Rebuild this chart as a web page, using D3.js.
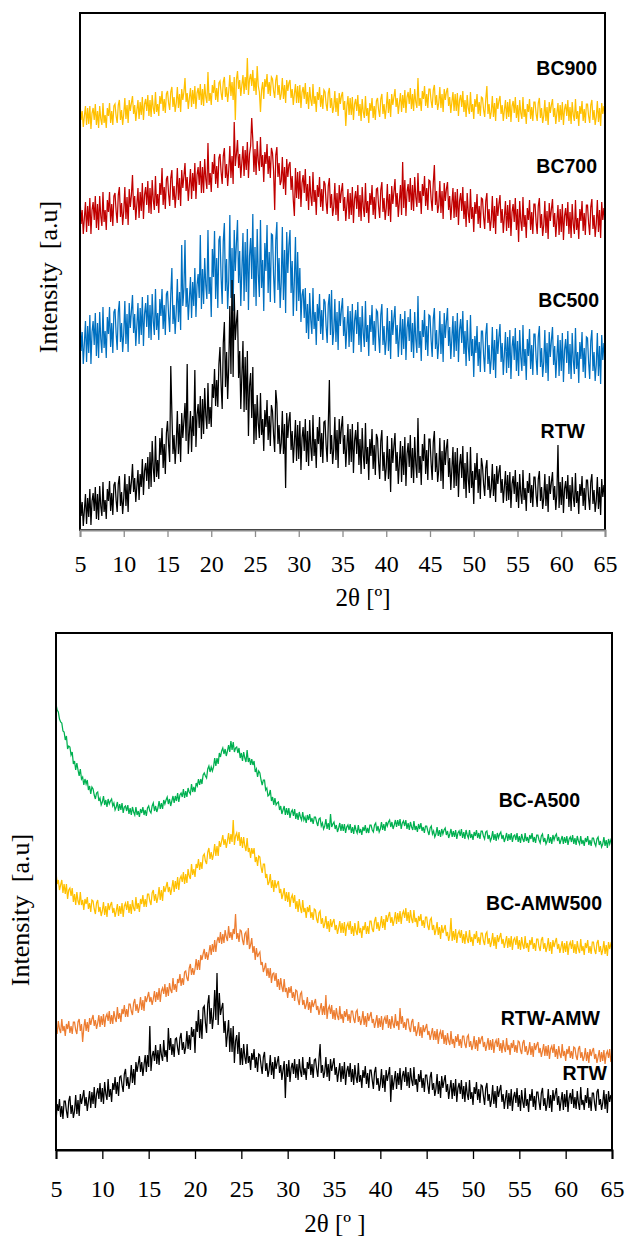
<!DOCTYPE html>
<html>
<head>
<meta charset="utf-8">
<script src="https://cdn.jsdelivr.net/npm/d3@7"></script>
<style>
  body { margin: 0; background: #fff; }
  svg { display: block; }
</style>
</head>
<body>
<svg id="chart" width="628" height="1239"></svg>
<script>
// 2θ scan range; every pattern is sampled uniformly from start to end (0.125° step)
const twoThetaStart = 5;
const twoThetaEnd = 65;
const twoThetaTicks = [5, 10, 15, 20, 25, 30, 35, 40, 45, 50, 55, 60, 65];

// ---- Panel (a): raw wood and biochars, intensity in a.u. (vertical offsets included) ----
const bc900 = [
  428,410,419,403,414,424,405,422,
  406,424,401,417,422,410,426,405,
  419,402,424,411,405,427,407,415,
  402,422,414,427,407,419,405,424,
  426,414,407,425,430,410,420,405,
  416,432,411,425,407,430,419,427,
  434,416,425,409,420,430,411,428,
  415,433,410,426,431,419,435,414,
  430,413,435,422,416,438,418,426,
  414,434,426,439,419,431,417,436,
  439,427,420,438,443,423,433,418,
  427,443,422,436,418,441,430,438,
  452,428,437,421,432,442,423,440,
  426,444,421,437,442,430,446,425,
  441,424,446,433,427,458,429,437,
  425,445,437,450,430,442,428,447,
  449,437,430,448,453,433,443,428,
  439,455,434,448,430,453,410,450,
  459,441,450,434,445,455,436,453,
  440,472,435,451,456,444,460,439,
  452,435,464,444,438,418,440,448,
  431,451,443,456,436,448,434,453,
  451,439,432,450,455,435,445,430,
  436,452,431,445,427,450,439,447,
  450,432,441,425,436,446,427,444,
  427,445,422,438,443,431,447,426,
  438,421,443,430,424,446,426,434,
  418,438,430,443,423,435,421,440,
  438,426,419,437,442,422,432,417,
  423,439,418,432,414,437,426,434,
  438,420,429,404,424,434,415,432,
  415,433,410,426,431,419,435,414,
  426,409,431,418,412,434,414,422,
  407,427,419,432,412,424,410,429,
  432,420,413,431,436,416,426,411,
  422,438,417,431,413,436,425,433,
  441,423,432,416,427,437,418,435,
  422,440,417,433,438,426,442,421,
  436,419,441,428,422,452,424,432,
  419,439,431,444,424,436,422,441,
  441,429,422,440,445,425,435,420,
  427,443,422,436,418,441,430,438,
  442,424,433,417,428,438,419,436,
  419,437,414,430,435,423,439,418,
  430,413,435,422,416,438,418,426,
  411,431,423,436,416,428,414,433,
  432,420,413,431,444,416,426,411,
  418,434,413,427,409,432,421,429,
  434,416,425,409,420,430,411,428,
  413,431,408,424,429,417,433,412,
  425,408,430,417,411,433,413,421,
  406,426,418,431,411,423,409,428,
  428,416,409,427,432,412,422,407,
  414,430,409,423,405,428,417,425,
  431,413,422,406,417,427,408,425,
  410,428,405,421,426,414,430,409,
  423,406,428,415,409,431,411,419,
  404,424,416,429,409,421,407,426,
  426,414,407,425,430,410,420,405,
  413,429,408,422,404,427,416,424,
  417
];
const bc700 = [
  334,306,320,296,312,328,298,324,
  304,332,296,320,328,310,334,302,
  326,300,334,314,304,338,308,320,
  300,330,318,338,308,326,304,334,
  337,319,307,335,343,313,327,305,
  319,343,311,333,305,341,323,335,
  355,320,334,310,326,342,312,338,
  319,347,311,335,343,325,349,317,
  342,316,350,330,320,354,324,336,
  317,347,335,362,325,343,321,351,
  354,336,324,352,360,330,344,322,
  338,362,330,352,324,360,342,354,
  367,339,353,329,345,361,331,357,
  339,367,331,355,363,345,369,337,
  363,337,371,351,341,387,345,357,
  338,368,356,376,346,364,342,372,
  376,358,346,374,382,352,366,344,
  360,384,352,374,346,408,364,376,
  390,362,376,352,368,384,354,380,
  360,388,352,376,384,412,390,358,
  381,355,389,369,359,393,363,375,
  348,378,366,386,356,374,352,382,
  377,359,320,375,383,353,367,345,
  349,373,341,363,335,371,353,365,
  368,340,354,330,314,362,332,358,
  331,359,323,347,355,337,361,329,
  346,320,354,334,324,358,328,340,
  315,345,333,353,323,341,319,349,
  346,328,316,344,352,322,336,314,
  323,347,315,337,309,345,327,339,
  347,319,333,309,325,341,311,337,
  315,343,307,331,339,321,345,313,
  335,309,343,323,313,347,317,329,
  307,337,325,345,315,333,311,341,
  342,324,312,340,348,318,332,310,
  322,346,314,336,308,344,326,338,
  351,323,337,313,329,345,315,368,
  322,350,314,338,346,328,352,320,
  345,319,353,333,323,357,327,339,
  316,346,334,354,324,342,320,350,
  349,331,319,347,365,325,339,317,
  325,349,317,339,311,347,329,341,
  348,320,334,310,326,342,312,338,
  313,341,305,329,337,319,343,311,
  329,303,337,317,307,341,311,323,
  298,328,316,336,306,324,302,332,
  331,313,301,329,337,307,321,299,
  310,334,302,324,296,332,314,326,
  335,307,321,297,313,329,299,325,
  302,330,294,318,326,308,332,300,
  321,288,329,309,299,333,303,315,
  292,322,310,330,300,318,296,326,
  326,308,296,324,332,302,316,294,
  305,329,297,319,291,327,309,321,
  331,303,317,293,309,325,295,321,
  298,326,290,314,322,304,328,296,
  318,292,326,306,296,330,300,312,
  291,321,309,329,299,317,295,325,
  325,307,295,323,331,301,315,293,
  306,330,298,320,292,328,310,322,
  312
];
const bc500 = [
  217,179,198,166,187,209,168,204,
  177,215,166,198,209,185,217,174,
  207,172,218,191,177,223,182,199,
  172,213,196,223,183,207,177,218,
  221,197,180,218,229,188,207,178,
  197,229,186,216,178,227,202,219,
  235,197,216,184,205,227,186,222,
  195,233,184,216,227,203,235,192,
  225,190,236,209,195,241,200,217,
  190,231,214,241,201,225,195,236,
  239,215,198,236,262,206,225,196,
  219,251,208,238,200,285,224,241,
  290,223,242,210,231,253,212,248,
  224,262,213,245,256,232,295,221,
  261,226,272,245,231,300,236,253,
  213,281,253,299,231,272,222,290,
  294,253,226,289,307,239,271,221,
  250,315,232,282,219,300,259,287,
  310,247,279,224,260,297,229,288,
  238,301,220,274,292,251,316,233,
  283,224,301,256,233,310,242,270,
  219,287,259,305,237,278,228,296,
  295,254,227,290,308,240,272,222,
  248,303,230,280,217,298,257,285,
  300,237,269,214,250,293,219,278,
  229,262,208,235,241,212,242,197,
  226,191,237,210,196,242,201,218,
  185,226,209,236,196,220,190,231,
  228,204,187,225,236,195,240,185,
  199,231,188,218,180,229,204,221,
  232,194,213,181,202,224,183,219,
  188,226,177,209,220,196,228,185,
  213,178,224,197,183,229,188,205,
  174,215,198,225,185,209,179,220,
  218,194,177,215,226,185,204,175,
  190,222,179,209,171,220,195,212,
  224,186,205,173,194,216,175,211,
  181,219,170,202,213,189,221,178,
  207,172,218,191,177,234,182,199,
  169,210,193,220,180,204,174,215,
  214,190,173,211,222,181,200,171,
  187,219,176,206,168,217,192,209,
  222,184,203,171,192,214,173,209,
  179,217,168,200,211,187,219,176,
  199,164,210,183,169,215,174,191,
  153,194,177,204,164,188,158,199,
  199,175,158,196,207,166,185,156,
  171,203,160,190,152,201,176,193,
  206,168,187,155,176,198,157,193,
  162,200,151,183,194,170,202,159,
  189,154,200,173,159,205,164,181,
  150,191,174,201,161,185,155,196,
  196,172,155,193,204,163,182,153,
  168,200,157,187,149,198,173,190,
  203,165,184,152,173,195,154,190,
  159,197,148,180,191,167,199,156,
  186,151,197,170,156,202,161,178,
  147,188,171,198,158,182,152,193,
  192,168,151,189,200,159,178,149,
  165,197,154,184,146,195,170,187,
  172
];
const rtwA = [
  42,14,28,4,20,36,6,32,
  13,41,5,29,37,19,43,11,
  36,10,44,24,14,48,18,30,
  11,41,29,49,19,37,15,45,
  48,30,18,46,54,24,38,16,
  32,56,24,46,18,54,36,48,
  66,38,52,28,44,60,30,56,
  43,71,35,59,67,49,73,41,
  78,43,89,62,48,94,53,70,
  51,92,75,102,62,86,56,97,
  109,85,68,164,117,76,95,66,
  87,119,76,106,68,117,92,109,
  127,89,166,76,97,119,78,114,
  94,160,83,115,126,102,134,91,
  131,96,142,115,101,147,106,123,
  103,146,132,161,124,150,123,166,
  183,145,121,187,208,143,178,131,
  164,224,156,250,153,236,190,208,
  220,152,179,121,155,189,118,173,
  120,179,94,144,157,112,163,86,
  126,90,135,107,92,137,95,111,
  79,120,103,130,90,114,84,125,
  119,95,78,140,127,86,105,76,
  87,119,76,106,42,117,92,109,
  118,80,99,67,88,110,69,105,
  71,109,60,92,103,79,111,68,
  99,64,110,83,69,115,74,91,
  62,103,86,113,73,97,67,108,
  109,85,68,106,150,76,95,66,
  81,113,70,100,62,111,86,103,
  114,76,95,63,84,106,65,101,
  68,106,57,89,100,76,108,65,
  91,56,102,75,61,107,66,83,
  50,91,74,101,61,85,55,96,
  92,68,51,89,100,59,78,49,
  62,94,51,81,38,92,67,84,
  97,59,78,46,67,89,48,84,
  55,93,44,76,87,63,95,52,
  82,47,93,66,52,112,57,74,
  45,86,69,96,56,80,50,91,
  91,67,50,88,99,58,77,48,
  60,92,49,79,41,90,65,82,
  91,53,72,40,61,83,42,78,
  44,82,33,65,76,52,84,41,
  67,32,78,51,37,83,42,59,
  26,67,50,77,37,61,31,72,
  64,46,34,62,70,40,54,32,
  42,66,34,56,28,64,46,58,
  65,37,51,27,43,59,29,55,
  30,58,22,46,54,36,60,28,
  48,22,56,36,26,60,30,42,
  19,49,37,57,27,45,23,53,
  53,35,23,51,59,29,43,21,
  32,56,24,46,18,54,36,48,
  58,30,44,20,36,85,22,48,
  25,53,17,41,49,31,55,23,
  45,19,53,33,23,57,27,39,
  16,46,34,54,24,42,20,50,
  50,32,20,48,56,26,40,18,
  29,53,21,43,15,51,33,45,
  35
];

// ---- Panel (b): activated samples, intensity in a.u. (vertical offsets included) ----
const bcA500 = [
  446,440,438,431,428,427,419,418,
  410,414,401,404,403,395,398,386,
  389,380,387,380,374,381,371,373,
  365,371,366,370,360,364,356,363,
  361,355,351,357,358,349,352,345,
  348,354,345,350,343,351,346,349,
  351,344,347,340,343,348,339,346,
  340,347,337,343,344,339,345,336,
  342,335,343,338,335,343,335,339,
  333,341,337,343,335,340,334,342,
  344,339,337,344,347,339,344,338,
  342,349,341,347,341,350,346,350,
  353,346,351,344,349,354,347,354,
  349,357,348,355,357,353,361,352,
  359,353,362,358,356,366,358,363,
  358,367,364,371,365,371,366,375,
  377,374,372,381,384,378,383,379,
  383,392,384,392,386,397,393,399,
  402,396,401,394,399,405,398,409,
  400,408,398,402,403,397,402,392,
  397,389,398,392,388,400,388,392,
  385,391,385,389,378,381,373,379,
  377,370,365,370,370,360,362,354,
  355,360,349,353,345,352,345,347,
  348,340,344,336,340,344,335,342,
  335,342,332,338,340,334,341,331,
  337,330,338,333,330,338,330,333,
  327,335,330,336,328,332,326,333,
  333,328,324,331,332,324,327,321,
  324,331,321,327,320,336,323,326,
  328,321,325,318,322,327,319,326,
  319,326,317,323,325,320,326,317,
  323,316,325,320,317,325,317,321,
  315,323,319,325,317,322,317,325,
  325,320,318,325,327,319,324,318,
  321,328,320,326,319,328,324,328,
  330,323,328,321,325,330,323,330,
  324,331,321,327,329,324,330,321,
  327,320,328,323,320,329,320,324,
  318,326,321,327,319,323,317,324,
  324,319,315,322,324,316,319,313,
  316,323,314,320,313,321,316,320,
  322,315,319,312,316,321,313,319,
  313,320,311,317,319,314,321,312,
  318,311,320,315,312,320,312,316,
  310,318,314,320,312,317,311,319,
  319,314,311,318,319,311,315,309,
  312,319,310,316,309,317,312,316,
  318,311,315,308,312,317,309,316,
  310,317,308,314,315,310,317,308,
  314,307,316,311,308,317,309,313,
  307,315,311,317,308,313,307,315,
  315,310,307,314,316,308,312,306,
  309,316,307,313,306,315,310,314,
  316,309,313,306,310,314,306,313,
  307,314,305,311,313,308,315,306,
  312,305,314,309,306,314,306,310,
  304,312,308,314,305,310,304,312,
  312,307,304,311,313,305,309,303,
  306,313,304,310,302,311,306,310,
  307
];
const bcAMW500 = [
  278,266,270,260,265,270,257,266,
  256,266,251,260,262,254,262,248,
  256,245,258,249,245,258,245,250,
  240,251,246,253,241,247,238,250,
  249,241,236,247,250,238,243,234,
  239,248,235,244,233,247,240,245,
  248,237,242,233,239,246,234,244,
  236,247,233,244,247,240,249,237,
  246,236,250,242,239,253,241,247,
  238,251,246,255,243,251,243,256,
  256,249,245,257,260,249,256,247,
  253,263,250,260,249,264,258,263,
  268,258,263,255,262,270,258,269,
  261,273,260,271,274,268,278,266,
  276,267,281,274,271,286,275,281,
  273,286,282,291,280,288,281,294,
  296,289,286,298,302,291,298,290,
  296,306,294,304,294,309,303,309,
  315,305,311,302,309,317,306,316,
  308,330,305,314,317,309,318,304,
  313,302,313,304,299,312,298,302,
  292,302,296,302,288,293,284,294,
  293,283,277,286,286,272,276,265,
  268,276,262,270,258,270,262,266,
  269,257,261,251,256,262,249,258,
  248,258,243,252,255,247,255,241,
  249,238,251,242,237,250,238,242,
  232,243,238,245,232,238,230,241,
  240,231,227,237,239,226,232,222,
  226,234,221,229,218,231,223,228,
  231,220,225,216,222,229,217,227,
  217,228,214,224,227,220,229,216,
  224,214,227,219,215,229,217,222,
  212,224,220,228,216,224,216,229,
  229,221,218,229,233,221,228,219,
  225,234,222,231,220,235,228,234,
  238,227,233,224,230,238,226,237,
  228,239,226,236,239,232,242,229,
  238,227,240,231,227,240,228,232,
  223,234,229,236,224,230,222,233,
  233,224,220,230,232,220,225,215,
  220,228,215,223,211,225,217,221,
  225,214,218,209,215,232,209,219,
  210,221,207,216,219,212,220,207,
  216,206,219,211,207,220,208,213,
  204,216,211,219,207,213,205,217,
  217,209,205,216,218,206,212,203,
  208,217,204,213,201,215,208,213,
  217,206,211,202,208,214,202,212,
  203,214,200,210,212,205,214,201,
  210,200,213,205,201,214,202,207,
  198,210,205,213,201,207,199,211,
  211,203,199,210,213,201,207,198,
  203,212,199,208,196,210,203,208,
  212,201,206,197,203,209,197,207,
  198,209,195,205,208,201,210,197,
  206,196,209,201,197,211,199,204,
  195,207,202,210,197,204,196,208,
  208,200,196,207,210,198,204,195,
  200,209,196,205,194,208,201,206,
  202
];
const rtwAMW = [
  126,116,129,121,117,131,119,124,
  114,126,121,129,117,124,116,128,
  128,120,116,128,131,119,126,108,
  122,131,119,128,118,132,125,131,
  135,124,130,121,127,135,123,134,
  125,136,123,133,136,129,139,126,
  135,126,139,132,128,143,131,137,
  128,141,136,145,133,141,133,146,
  146,139,135,147,151,139,146,137,
  143,153,140,150,139,154,148,153,
  158,148,153,145,151,159,148,158,
  150,162,148,159,162,156,166,153,
  163,154,167,160,157,172,160,166,
  158,171,167,176,164,172,165,178,
  179,172,169,182,186,175,182,175,
  181,191,180,190,180,195,190,196,
  201,191,198,190,197,205,195,206,
  198,210,198,209,213,207,218,206,
  216,207,220,213,209,224,212,218,
  210,221,216,236,211,217,208,220,
  219,210,205,216,218,205,222,201,
  205,212,197,204,190,202,193,196,
  198,185,188,178,182,187,174,182,
  172,182,167,176,177,169,177,163,
  171,160,172,163,158,171,158,162,
  152,163,157,164,152,158,149,160,
  159,150,145,156,158,145,150,141,
  145,153,140,148,137,150,143,147,
  151,140,144,135,141,147,135,144,
  135,155,131,141,144,136,145,131,
  140,130,142,134,130,144,131,136,
  127,139,133,141,129,136,127,139,
  139,131,127,138,140,128,134,125,
  130,139,125,134,123,137,129,134,
  138,127,131,122,128,135,122,132,
  123,134,120,130,133,126,135,122,
  131,121,134,126,122,136,124,129,
  120,142,126,134,122,128,120,131,
  131,122,118,128,131,118,124,114,
  119,128,114,123,112,125,118,122,
  126,115,119,110,116,122,110,119,
  110,121,106,116,119,111,120,106,
  115,105,117,109,105,119,106,111,
  102,114,108,116,104,111,102,114,
  114,106,102,113,115,103,109,100,
  105,114,101,110,99,113,106,111,
  114,103,108,99,105,112,100,110,
  100,111,97,107,110,103,112,99,
  107,97,110,102,98,112,100,105,
  95,107,102,110,98,105,97,109,
  108,100,96,107,110,98,104,95,
  99,108,95,104,93,107,100,105,
  108,97,102,93,99,106,94,104,
  94,105,91,101,104,97,106,93,
  101,91,104,96,92,106,94,99,
  89,101,96,104,92,99,91,103,
  102,94,90,101,104,92,98,89,
  93,102,89,98,87,101,94,99,
  102,91,96,87,93,100,88,98,
  89,100,86,96,99,92,101,88,
  93
];
const rtwB = [
  28,46,39,51,33,44,31,49,
  49,39,32,49,54,36,45,32,
  39,55,36,50,34,56,46,53,
  60,44,53,39,49,59,42,58,
  46,63,42,56,62,51,67,48,
  62,46,68,56,50,71,53,61,
  48,67,60,73,56,68,54,73,
  74,65,58,76,81,64,73,61,
  69,85,67,81,65,88,78,86,
  94,78,88,74,85,95,78,95,
  83,124,79,94,99,89,105,86,
  100,85,106,95,89,110,93,100,
  88,122,100,112,95,106,93,111,
  112,102,95,112,117,100,108,96,
  103,119,101,115,100,123,113,121,
  97,129,118,140,112,131,111,142,
  144,127,117,146,155,126,142,121,
  134,160,130,177,125,157,135,142,
  147,117,129,103,116,130,98,122,
  98,124,87,109,115,96,118,85,
  102,85,106,93,86,106,87,94,
  80,97,90,101,82,93,78,96,
  95,85,76,93,98,79,87,73,
  80,95,75,88,71,93,81,88,
  94,77,85,70,80,89,52,86,
  73,90,68,82,87,76,91,72,
  86,70,91,79,73,93,75,82,
  70,88,81,93,75,86,72,90,
  91,81,73,90,106,77,85,72,
  78,93,73,86,69,91,79,86,
  92,75,83,68,78,87,68,84,
  71,88,65,79,84,73,87,68,
  81,65,85,73,67,87,68,75,
  62,80,72,84,66,77,62,80,
  80,70,61,78,83,65,72,59,
  66,81,62,75,58,80,69,76,
  83,48,75,60,70,79,61,77,
  65,82,60,74,79,68,83,64,
  78,62,82,70,64,83,65,71,
  58,76,68,80,62,72,58,75,
  75,65,56,73,78,60,67,54,
  61,76,56,69,52,74,62,69,
  75,58,66,51,61,70,51,67,
  54,71,48,62,67,56,70,51,
  64,48,68,56,50,70,51,58,
  45,63,56,68,50,61,47,65,
  64,54,45,62,67,49,56,43,
  50,65,46,59,42,64,53,60,
  65,48,56,41,51,60,41,57,
  44,61,39,53,58,47,62,43,
  55,39,60,48,42,62,44,51,
  38,56,49,61,43,54,40,58,
  58,48,40,57,62,44,52,39,
  46,61,42,55,38,60,49,56,
  62,45,54,39,49,58,40,56,
  43,60,38,52,57,46,61,42,
  53,41,59,47,40,63,45,50,
  40,55,47,62,42,53,39,57,
  57,46,39,58,61,45,51,40,
  47,60,41,56,37,59,48,55,
  50
];

const serif = "'Liberation Serif', 'Times New Roman', Times, serif";
const sans = "'Liberation Sans', Arial, Helvetica, sans-serif";

const panels = [
  {
    id: "a",
    box: { left: 80, right: 605, top: 13, bottom: 530 },
    yMax: 517,
    baseColor: "#8c8c8c", tickLen: 7,
    tickLabelY: 572,
    xTitle: "2θ [º]", xTitlePos: [363, 606],
    yTitlePos: [57, 277],
    series: [
      { name: "BC900", values: bc900, color: "#FFC000", label: [597, 75] },
      { name: "BC700", values: bc700, color: "#C00000", label: [597, 173] },
      { name: "BC500", values: bc500, color: "#0070C0", label: [599, 307] },
      { name: "RTW",   values: rtwA,  color: "#000000", label: [585, 438] }
    ]
  },
  {
    id: "b",
    box: { left: 56, right: 612, top: 633, bottom: 1150 },
    yMax: 517,
    baseColor: "#000000", tickLen: 9,
    tickLabelY: 1197,
    xTitle: "2θ [º ]", xTitlePos: [335, 1232],
    yTitlePos: [29, 910],
    series: [
      { name: "BC-A500",   values: bcA500,   color: "#00B050", label: [580, 807] },
      { name: "BC-AMW500", values: bcAMW500, color: "#FFC000", label: [602, 910] },
      { name: "RTW-AMW",   values: rtwAMW,   color: "#ED7D31", label: [600, 1025] },
      { name: "RTW",       values: rtwB,     color: "#000000", label: [607, 1080] }
    ]
  }
];

const svg = d3.select("#chart");

panels.forEach(p => {
  const b = p.box;
  const x = d3.scaleLinear().domain([twoThetaStart, twoThetaEnd]).range([b.left, b.right]);
  const y = d3.scaleLinear().domain([0, p.yMax]).range([b.bottom, b.top]);

  const clipId = "clip-" + p.id;
  svg.append("clipPath").attr("id", clipId)
    .append("rect")
    .attr("x", b.left).attr("y", b.top)
    .attr("width", b.right - b.left).attr("height", b.bottom - b.top);

  const g = svg.append("g").attr("clip-path", `url(#${clipId})`);
  p.series.forEach(s => {
    const step = (twoThetaEnd - twoThetaStart) / (s.values.length - 1);
    const line = d3.line()
      .x((d, i) => x(twoThetaStart + i * step))
      .y(d => y(d));
    g.append("path")
      .datum(s.values)
      .attr("fill", "none")
      .attr("stroke", s.color)
      .attr("stroke-width", 1.25)
      .attr("d", line);
  });

  // plot frame
  svg.append("rect")
    .attr("x", b.left).attr("y", b.top)
    .attr("width", b.right - b.left).attr("height", b.bottom - b.top)
    .attr("fill", "none").attr("stroke", "#000").attr("stroke-width", 2);

  // 2θ axis
  const axis = d3.axisBottom(x)
    .tickValues(twoThetaTicks)
    .tickSize(p.tickLen)
    .tickFormat(d3.format("d"));
  const ag = svg.append("g")
    .attr("transform", `translate(0,${b.bottom})`)
    .call(axis);
  ag.select(".domain")
    .attr("stroke", p.baseColor).attr("stroke-width", 2);
  ag.selectAll(".tick line")
    .attr("stroke", p.baseColor).attr("stroke-width", 1.3);
  ag.selectAll(".tick text")
    .attr("y", null).attr("dy", null)
    .attr("transform", `translate(0,${p.tickLabelY - b.bottom})`)
    .attr("fill", "#000")
    .style("font-family", serif)
    .style("font-size", "24px");

  // axis titles
  svg.append("text")
    .attr("x", p.xTitlePos[0]).attr("y", p.xTitlePos[1])
    .attr("text-anchor", "middle")
    .style("font-family", serif).style("font-size", "25px")
    .text(p.xTitle);

  svg.append("text")
    .attr("transform", `translate(${p.yTitlePos[0]},${p.yTitlePos[1]}) rotate(-90)`)
    .attr("text-anchor", "middle")
    .style("font-family", serif).style("font-size", "26px")
    .style("white-space", "pre")
    .text("Intensity  [a.u]");

  // sample names
  p.series.forEach(s => {
    svg.append("text")
      .attr("x", s.label[0]).attr("y", s.label[1])
      .attr("text-anchor", "end")
      .style("font-family", sans).style("font-weight", "bold")
      .style("font-size", "19.5px")
      .attr("fill", "#000")
      .text(s.name);
  });
});
</script>
</body>
</html>
